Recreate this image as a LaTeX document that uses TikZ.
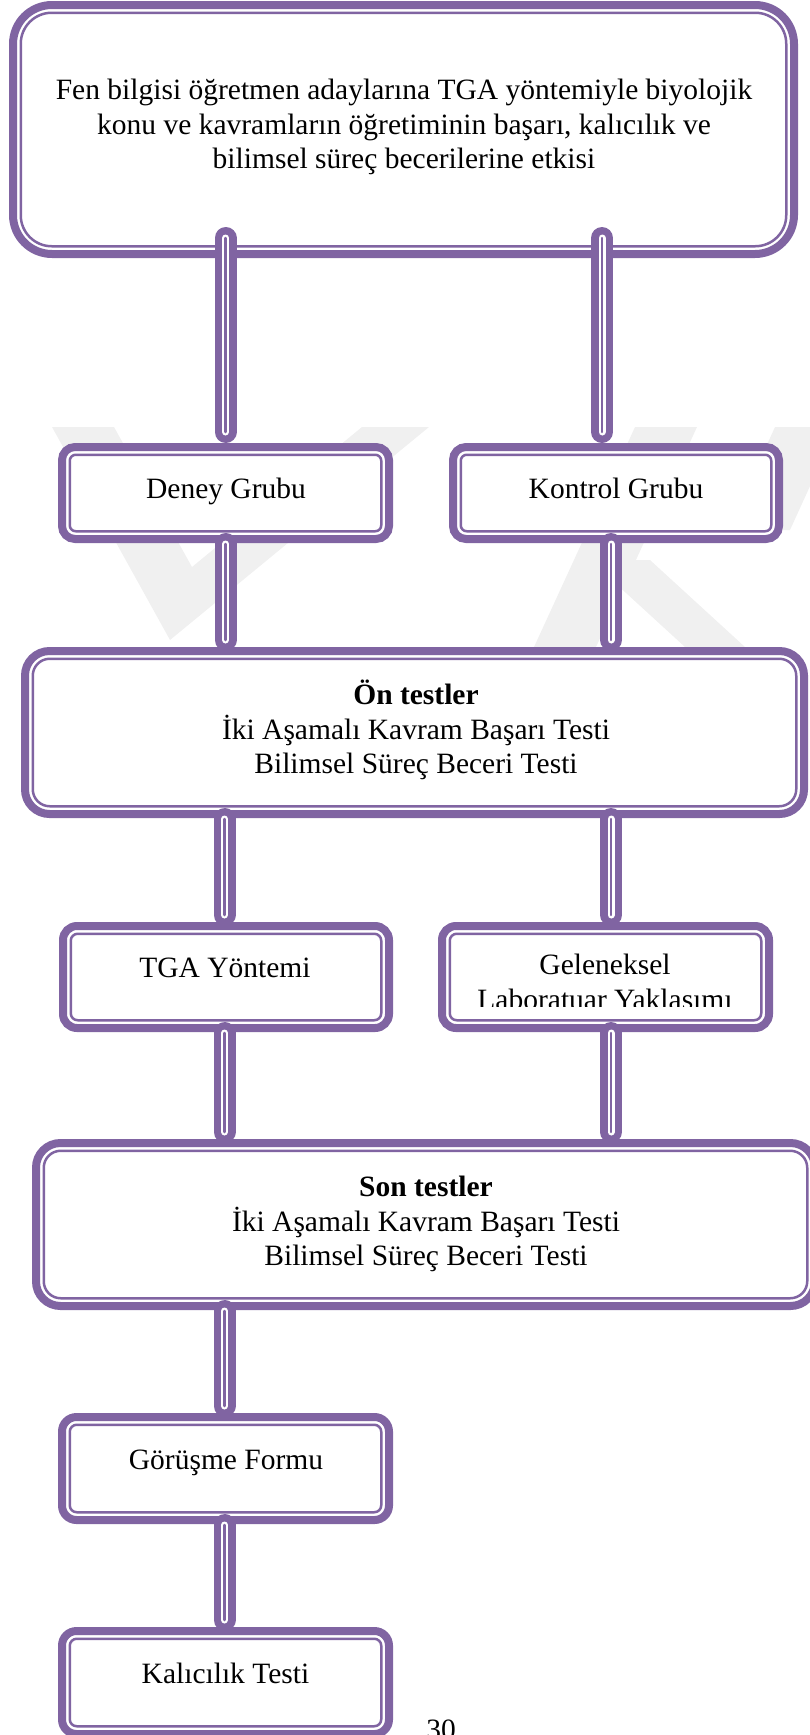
\documentclass[tikz,border=0pt]{standalone}
\usepackage{fontspec}
\setmainfont{Liberation Serif}
\definecolor{pur}{HTML}{8064A2}
\definecolor{wm}{HTML}{F0F0F0}
\begin{document}
\begin{tikzpicture}[x=1pt,y=-1pt,
  box/.style={draw=pur, line width=8pt, fill=white, inner sep=0pt, outer sep=0pt, rectangle},
  innerline/.style={draw=pur, line width=2.5pt},
  conn/.style={draw=pur, line width=22pt, line cap=round,
    postaction={draw=white, line width=7pt},
    postaction={draw=pur, line width=2.5pt}},
  txt/.style={font=\fontsize{29.5}{34.5}\selectfont, inner sep=0pt, align=center, text=black}]
\useasboundingbox (0,0) rectangle (810,1735);

% faint watermark
\fill[wm] (52,427) -- (114,427) -- (192,567) -- (362,427) -- (429,427) -- (170,640) -- cycle;
\fill[wm] (635,427) -- (697,427) -- (596,647) -- (534,647) -- cycle;
\fill[wm] (590,560) -- (650,560) -- (745,647) -- (685,647) -- cycle;
\fill[wm] (775,427) -- (837,427) -- (790,530) -- (728,530) -- cycle;

% boxes
\node[box, rounded corners=39pt, minimum width=781pt, minimum height=249pt] (T) at (403.5,129.5) {};
\node[box, rounded corners=13pt, minimum width=327pt, minimum height=92pt] (D) at (225.5,493) {};
\node[box, rounded corners=13pt, minimum width=326pt, minimum height=92pt] (K) at (616,493) {};
\node[box, rounded corners=24.5pt, minimum width=779pt, minimum height=163pt] (O) at (414.5,732.5) {};
\node[box, rounded corners=14pt, minimum width=326pt, minimum height=102pt] (G1) at (226,977) {};
\node[box, rounded corners=14pt, minimum width=327pt, minimum height=102pt] (G2) at (605.5,977) {};
\node[box, rounded corners=24.5pt, minimum width=779pt, minimum height=163pt] (S) at (425.5,1224.5) {};
\node[box, rounded corners=14.5pt, minimum width=327pt, minimum height=103pt] (R) at (225.5,1468.5) {};
\node[box, rounded corners=14.5pt, minimum width=327pt, minimum height=103pt] (L) at (225.5,1682.5) {};

% inner thin lines
\draw[innerline, rounded corners=31pt] ([shift={(7.75,7.75)}]T.north west) rectangle ([shift={(-7.75,-7.75)}]T.south east);
\foreach \n in {D,K} {
  \draw[innerline, rounded corners=6pt] ([shift={(7.75,7.75)}]\n.north west) rectangle ([shift={(-7.75,-7.75)}]\n.south east);
}
\foreach \n in {G1,G2,R,L} {
  \draw[innerline, rounded corners=7pt] ([shift={(7.75,7.75)}]\n.north west) rectangle ([shift={(-7.75,-7.75)}]\n.south east);
}
\foreach \n in {O,S} {
  \draw[innerline, rounded corners=17pt] ([shift={(7.75,7.75)}]\n.north west) rectangle ([shift={(-7.75,-7.75)}]\n.south east);
}

% connectors
\draw[conn] ([xshift=-178pt,yshift=16pt]T.south) -- ([yshift=15pt]D.north);
\draw[conn] ([xshift=198.5pt,yshift=16pt]T.south) -- ([xshift=-14pt,yshift=15pt]K.north);
\draw[conn] ([yshift=-5pt]D.south) -- ([xshift=-189pt,yshift=11pt]O.north);
\draw[conn] ([xshift=-5pt,yshift=-5pt]K.south) -- ([xshift=196.5pt,yshift=11pt]O.north);
\draw[conn] ([xshift=-190pt,yshift=-5pt]O.south) -- ([xshift=-1.5pt,yshift=11pt]G1.north);
\draw[conn] ([xshift=196.5pt,yshift=-5pt]O.south) -- ([xshift=5.5pt,yshift=11pt]G2.north);
\draw[conn] ([xshift=-1.5pt,yshift=-5pt]G1.south) -- ([xshift=-201pt,yshift=11pt]S.north);
\draw[conn] ([xshift=5.5pt,yshift=-5pt]G2.south) -- ([xshift=185.5pt,yshift=11pt]S.north);
\draw[conn] ([xshift=-201pt,yshift=-5pt]S.south) -- ([xshift=-1pt,yshift=11pt]R.north);
\draw[conn] ([xshift=-1pt,yshift=-5pt]R.south) -- ([xshift=-1pt,yshift=11pt]L.north);

% texts
\node[txt] (tT) at (404,127) {Fen bilgisi öğretmen adaylarına TGA yöntemiyle biyolojik\\konu ve kavramların öğretiminin başarı, kalıcılık ve\\bilimsel süreç becerilerine etkisi};
\node[txt, anchor=base] (tD) at (226,498) {Deney Grubu};
\node[txt, anchor=base] (tK) at (616,498) {Kontrol Grubu};
\node[txt] (tO) at (416,730) {\textbf{Ön testler}\\İki Aşamalı Kavram Başarı Testi\\Bilimsel Süreç Beceri Testi};
\node[txt, anchor=base] (tG1) at (225,977) {TGA Yöntemi};
\begin{scope}
\clip (440,925) rectangle (772,1006);
\node[txt] (tG2) at (605,985) {Geleneksel\\Laboratuar Yaklaşımı};
\end{scope}
\node[txt] (tS) at (426,1224) {\textbf{Son testler}\\İki Aşamalı Kavram Başarı Testi\\Bilimsel Süreç Beceri Testi};
\node[txt, anchor=base] (tR) at (226,1469) {Görüşme Formu};
\node[txt, anchor=base] (tL) at (225.5,1683) {Kalıcılık Testi};
\node[txt, anchor=base] (pg) at (441,1739) {30};
\end{tikzpicture}
\end{document}
